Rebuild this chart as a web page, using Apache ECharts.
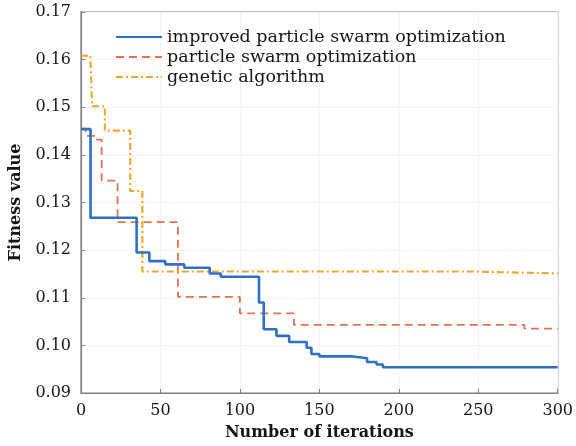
<!DOCTYPE html>
<html><head><meta charset="utf-8">
<script src="https://cdn.jsdelivr.net/npm/echarts@6/dist/echarts.min.js"></script>
<style>html,body{margin:0;padding:0;background:#fff}#c{width:576px;height:446px}</style>
</head><body><div id="c"></div>
<script>
const seriesNames = ['improved particle swarm optimization', 'particle swarm optimization', 'genetic algorithm'];
const xTicks = [0, 50, 100, 150, 200, 250, 300];
const yTicks = [0.09, 0.10, 0.11, 0.12, 0.13, 0.14, 0.15, 0.16, 0.17];
// [iteration, fitness] change points (step at end)
const ipsoIter = [0, 6, 35, 43, 53, 65, 81, 88, 112, 115, 123, 131, 142, 145, 150, 170, 180, 186, 190, 300];
const ipsoVal  = [0.1454, 0.1268, 0.1195, 0.1177, 0.1170, 0.1163, 0.1151, 0.1144, 0.1090, 0.1034, 0.1020, 0.1007, 0.0995, 0.0982, 0.0977, 0.0973, 0.0965, 0.0960, 0.0954, 0.0954];
const psoIter = [0, 3, 10, 13, 23, 61, 100, 134, 279, 300];
const psoVal  = [0.1455, 0.1440, 0.1432, 0.1346, 0.1259, 0.1102, 0.1067, 0.1043, 0.1035, 0.1035];
const gaIter = [0, 6, 7, 15, 31, 38.6, 247, 300];
const gaVal  = [0.1608, 0.1593, 0.1502, 0.1451, 0.1324, 0.1155, 0.1151, 0.1151];

const zip = (a, b) => a.map((v, i) => [v, b[i]]);
const serif = 'DejaVu Serif';
const chart = echarts.init(document.getElementById('c'));
chart.setOption({
  animation: false,
  backgroundColor: '#fff',
  grid: { left: 76, right: 16, top: 12, bottom: 52, show: true, borderColor: '#808080', borderWidth: 1.2, containLabel: false },
  legend: {
    orient: 'vertical', left: 110, top: 22, itemWidth: 46, itemHeight: 12, itemGap: 0,
    itemStyle: { opacity: 0 },
    textStyle: { fontFamily: serif, fontSize: 17.5, color: '#151515', lineHeight: 20 },
    data: seriesNames
  },
  xAxis: {
    type: 'value', min: 0, max: 300, interval: 50,
    name: 'Number of iterations', nameLocation: 'middle', nameGap: 32,
    nameTextStyle: { fontFamily: serif, fontSize: 16, fontWeight: 'bold', color: '#151515' },
    axisLine: { show: true, lineStyle: { color: '#808080', width: 1.2 } },
    axisTick: { show: true, inside: true, length: 4, lineStyle: { color: '#808080' } },
    axisLabel: { fontFamily: serif, fontSize: 16, color: '#151515', margin: 10, formatter: v => xTicks.includes(v) ? String(v) : '' },
    splitLine: { show: true, lineStyle: { color: '#f3f3f3' } }
  },
  yAxis: {
    type: 'value', min: 0.09, max: 0.17, interval: 0.01,
    name: 'Fitness value', nameLocation: 'middle', nameGap: 57,
    nameTextStyle: { fontFamily: serif, fontSize: 16, fontWeight: 'bold', color: '#151515' },
    axisLine: { show: true, lineStyle: { color: '#808080', width: 1.2 } },
    axisTick: { show: true, inside: true, length: 4, lineStyle: { color: '#808080' } },
    axisLabel: { fontFamily: serif, fontSize: 16, color: '#151515', margin: 10, formatter: v => v.toFixed(2) },
    splitLine: { show: true, lineStyle: { color: '#f3f3f3' } }
  },
  series: [
    { name: seriesNames[0], type: 'line', step: 'end', symbol: 'none', z: 3,
      data: zip(ipsoIter, ipsoVal), lineStyle: { color: '#2c70c8', width: 2.6 }, itemStyle: { color: '#2c70c8' } },
    { name: seriesNames[1], type: 'line', step: 'end', symbol: 'none', z: 2,
      data: zip(psoIter, psoVal), lineStyle: { color: '#e4714f', width: 1.8, type: [8, 5] }, itemStyle: { color: '#e4714f' } },
    { name: seriesNames[2], type: 'line', step: 'end', symbol: 'none', z: 2,
      data: zip(gaIter, gaVal), lineStyle: { color: '#f0a62a', width: 2.1, type: [7, 3, 2, 3] }, itemStyle: { color: '#f0a62a' } }
  ]
});
</script></body></html>
